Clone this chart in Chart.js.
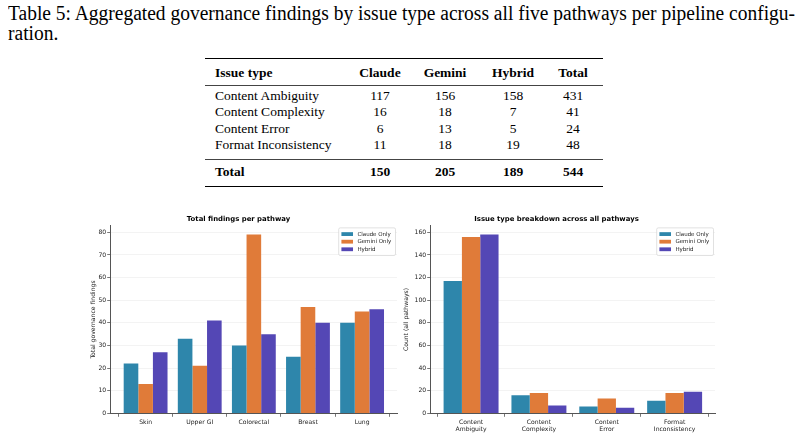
<!DOCTYPE html>
<html>
<head>
<meta charset="utf-8">
<script src="https://cdn.jsdelivr.net/npm/chart.js@4.4.0/dist/chart.umd.min.js"></script>
<style>
  html, body { margin: 0; padding: 0; background: #fff; }
  body { width: 808px; height: 438px; position: relative; overflow: hidden;
         font-family: 'Liberation Serif', 'Times New Roman', serif; color: #000; }
  #caption { position: absolute; left: 8px; top: 4.2px; font-size: 20px; line-height: 19.5px;
             white-space: nowrap; transform-origin: 0 0; }
  .cell { position: absolute; font-size: 13.5px; line-height: 16px; white-space: nowrap; }
  .num { width: 70px; text-align: center; }
  .bold { font-weight: bold; }
  .rule { position: absolute; left: 205px; width: 398px; }
  canvas { position: absolute; top: 205px; }
</style>
</head>
<body>
<div id="caption"><span id="capLine1">Table 5: Aggregated governance findings by issue type across all five pathways per pipeline configu-</span><br>ration.</div>
<div id="table"></div>
<canvas id="pathwayChart" width="318" height="233" style="left:80px"></canvas>
<canvas id="issueChart" width="335" height="233" style="left:398px"></canvas>
<script>
// per pathway totals (left panel)
const pathways = ['Skin', 'Upper GI', 'Colorectal', 'Breast', 'Lung'];
const claudeByPathway = [22, 33, 30, 25, 40];
const geminiByPathway = [13, 21, 79, 47, 45];
const hybridByPathway = [27, 41, 35, 40, 46];

// per issue type, summed over pathways (right panel + table)
const issueTypes = ['Content Ambiguity', 'Content Complexity', 'Content Error', 'Format Inconsistency'];
const issueTickLabels = [['Content', 'Ambiguity'], ['Content', 'Complexity'], ['Content', 'Error'], ['Format', 'Inconsistency']];
const claudeByIssue = [117, 16, 6, 11];
const geminiByIssue = [156, 18, 13, 18];
const hybridByIssue = [158, 7, 5, 19];

const seriesNames = ['Claude Only', 'Gemini Only', 'Hybrid'];
const seriesColors = ['#2E86AB', '#E07B39', '#5447B5'];
const tableHeader = ['Issue type', 'Claude', 'Gemini', 'Hybrid', 'Total'];

// ---- caption: stretch first line to the measured text width
const cap = document.getElementById('caption');
const capW = document.getElementById('capLine1').getBoundingClientRect().width;
cap.style.transform = 'scaleX(' + (787 / capW) + ')';

// ---- table
const tableEl = document.getElementById('table');
const colCenters = [380, 445, 513, 573];

function addRow(cells, baseline, bold) {
    const top = baseline - 12.6;
    cells.forEach((text, i) => {
        const d = document.createElement('div');
        d.className = 'cell' + (i > 0 ? ' num' : '') + (bold ? ' bold' : '');
        d.textContent = text;
        d.style.top = top + 'px';
        d.style.left = (i === 0 ? 215 : colCenters[i - 1] - 35) + 'px';
        tableEl.appendChild(d);
    });
}

function addRule(y, h, color) {
    const r = document.createElement('div');
    r.className = 'rule';
    r.style.top = y + 'px';
    r.style.height = h + 'px';
    r.style.background = color;
    tableEl.appendChild(r);
}

const sum = arr => arr.reduce((a, b) => a + b, 0);
const bodyBaselines = [101, 117, 133.2, 149.3];

addRule(57.6, 1.4, '#000');
addRow(tableHeader, 77.7, true);
addRule(85.2, 0.9, '#444');
issueTypes.forEach((name, i) => {
    const c = claudeByIssue[i], g = geminiByIssue[i], h = hybridByIssue[i];
    addRow([name, c, g, h, c + g + h], bodyBaselines[i], false);
});
addRule(158.6, 1.1, '#444');
addRow(['Total', sum(claudeByIssue), sum(geminiByIssue), sum(hybridByIssue),
        sum(claudeByIssue) + sum(geminiByIssue) + sum(hybridByIssue)], 176.7, true);
addRule(186, 1.4, '#000');

// ---- charts
Chart.defaults.font.family = 'DejaVu Sans';

const textColor = '#222';
const axisColor = '#555';

const insideLegend = {
    id: 'insideLegend',
    afterDatasetsDraw(chart) {
        const { ctx, chartArea } = chart;
        const fs = 5.5;
        ctx.save();
        ctx.font = fs + 'px "DejaVu Sans"';
        const names = chart.data.datasets.map(d => d.label);
        const textW = Math.max(...names.map(n => ctx.measureText(n).width));
        const padL = 2.7, sw = 11.6, sh = 3.8, gap = 4.4, padR = 4.2, rowH = 7.6, padV = 6.2;
        const boxW = padL + sw + gap + textW + padR;
        const boxH = padV * 2 + rowH * (names.length - 1);
        const x0 = chartArea.right - 1.5 - boxW;
        const y0 = chartArea.top + 2.2;

        ctx.beginPath();
        ctx.roundRect(x0, y0, boxW, boxH, 1.5);
        ctx.fillStyle = 'rgba(255,255,255,0.85)';
        ctx.fill();
        ctx.lineWidth = 0.7;
        ctx.strokeStyle = '#d4d4d4';
        ctx.stroke();

        ctx.textBaseline = 'middle';
        ctx.textAlign = 'left';
        names.forEach((n, k) => {
            const cy = y0 + padV + k * rowH;
            ctx.fillStyle = chart.data.datasets[k].backgroundColor;
            ctx.fillRect(x0 + padL, cy - sh / 2, sw, sh);
            ctx.fillStyle = textColor;
            ctx.fillText(n, x0 + padL + sw + gap, cy + 0.3);
        });
        ctx.restore();
    }
};

function toPoints(values) {
    return values.map((v, i) => ({ x: i, y: v }));
}

function buildChart(id, opts) {
    const tickFont = { size: 6.1 };
    return new Chart(document.getElementById(id), {
        type: 'bar',
        data: {
            datasets: opts.series.map((vals, k) => ({
                label: seriesNames[k],
                data: toPoints(vals),
                backgroundColor: seriesColors[k],
                borderWidth: 0,
                categoryPercentage: 0.81,
                barPercentage: 1
            }))
        },
        options: {
            responsive: false,
            animation: false,
            layout: { padding: { left: 0, right: opts.padRight, top: 0, bottom: 0 } },
            plugins: {
                legend: { display: false },
                tooltip: { enabled: false },
                title: {
                    display: true,
                    text: opts.title,
                    color: '#000',
                    font: { size: 6.9, weight: 'bold', lineHeight: 1.2 },
                    padding: { top: 10.5, bottom: 1.9 }
                }
            },
            scales: {
                x: {
                    type: 'linear',
                    min: opts.xMin,
                    max: opts.xMax,
                    offset: false,
                    afterBuildTicks: s => { s.ticks = opts.labels.map((_, i) => ({ value: i })); },
                    afterFit: s => { s.height = 24.7; },
                    ticks: {
                        callback: v => opts.labels[v],
                        color: textColor,
                        font: tickFont,
                        padding: 1.5,
                        maxRotation: 0,
                        autoSkip: false
                    },
                    grid: { display: true, drawOnChartArea: false, drawTicks: true,
                            tickLength: 3.5, tickColor: axisColor, tickWidth: 0.8 },
                    border: { display: true, color: axisColor, width: 1 }
                },
                y: {
                    min: 0,
                    max: opts.yMax,
                    afterFit: s => { s.width = opts.yWidth; },
                    ticks: { stepSize: opts.yStep, includeBounds: false, color: textColor,
                             font: tickFont, padding: 1 },
                    grid: { color: '#f0f0f0', lineWidth: 0.8, tickLength: 3.5,
                            tickColor: axisColor, tickWidth: 0.8 },
                    border: { display: true, color: axisColor, width: 1 },
                    title: { display: true, text: opts.yTitle, color: textColor, font: tickFont,
                             padding: { top: opts.yTitlePad, bottom: 0 } }
                }
            }
        },
        plugins: [insideLegend]
    });
}

buildChart('pathwayChart', {
    title: 'Total findings per pathway',
    labels: pathways,
    series: [claudeByPathway, geminiByPathway, hybridByPathway],
    xMin: -0.645, xMax: 4.645,
    yMax: 82.95, yStep: 10,
    yTitle: 'Total governance findings',
    yWidth: 30.7, yTitlePad: 9.6,
    padRight: 1
});

buildChart('issueChart', {
    title: 'Issue type breakdown across all pathways',
    labels: issueTickLabels,
    series: [claudeByIssue, geminiByIssue, hybridByIssue],
    xMin: -0.595, xMax: 3.595,
    yMax: 165.9, yStep: 20,
    yTitle: 'Count (all pathways)',
    yWidth: 32.7, yTitlePad: 5,
    padRight: 18
});
</script>
</body>
</html>
